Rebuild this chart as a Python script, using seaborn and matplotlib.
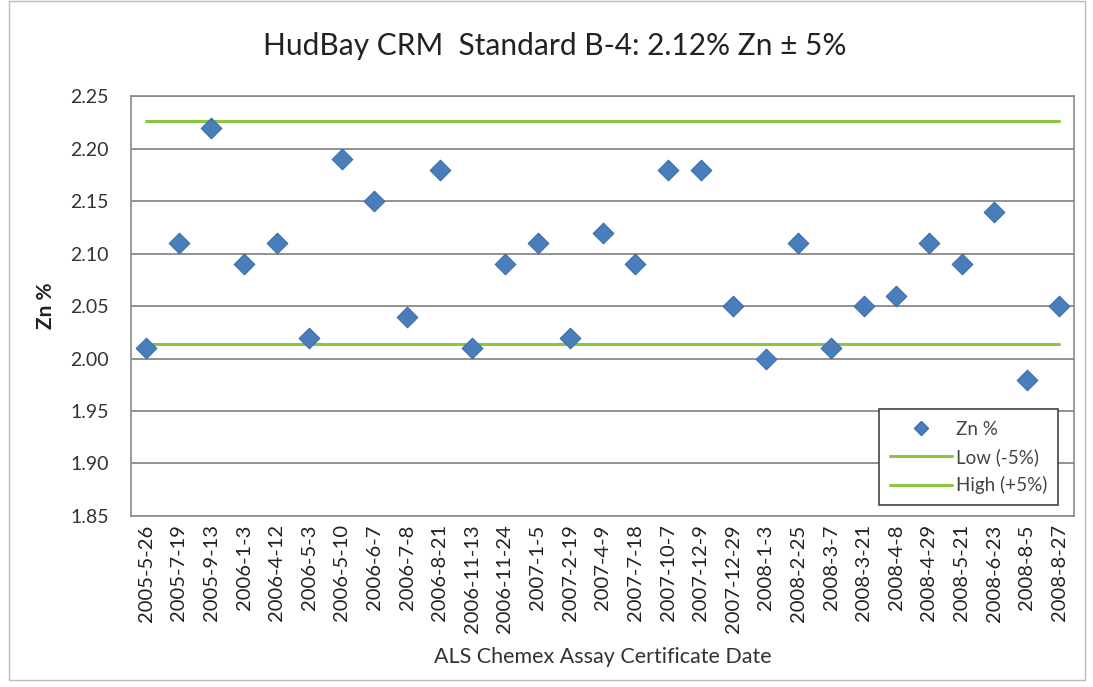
import pandas as pd
import matplotlib.pyplot as plt
import matplotlib.patches as mpatches
import seaborn as sns

fechas = ['2005-5-26', '2005-7-19', '2005-9-13', '2006-1-3', '2006-4-12', '2006-5-3',
          '2006-5-10', '2006-6-7', '2006-7-8', '2006-8-21', '2006-11-13', '2006-11-24',
          '2007-1-5', '2007-2-19', '2007-4-9', '2007-7-18', '2007-10-7', '2007-12-9',
          '2007-12-29', '2008-1-3', '2008-2-25', '2008-3-7', '2008-3-21', '2008-4-8',
          '2008-4-29', '2008-5-21', '2008-6-23', '2008-8-5', '2008-8-27']
zn = [2.01, 2.11, 2.22, 2.09, 2.11, 2.02, 2.19, 2.15, 2.04, 2.18, 2.01, 2.09, 2.11, 2.02,
      2.12, 2.09, 2.18, 2.18, 2.05, 2.00, 2.11, 2.01, 2.05, 2.06, 2.11, 2.09, 2.14, 1.98, 2.05]
estandar = 2.12
bajo = round(estandar * 0.95, 3)
alto = round(estandar * 1.05, 3)

df = pd.DataFrame({'Fecha': fechas, 'Zn': zn})
df['Low'] = bajo
df['High'] = alto

sns.set_style('white')
plt.rcParams['font.family'] = ['Lato', 'DejaVu Sans']

fig = plt.figure(figsize=(10.93, 6.87), dpi=100)
ax = fig.add_axes([0.12, 0.249, 0.863, 0.611])

verde = '#8cc63f'
azul = '#4a7ebb'
sns.lineplot(data=df, x='Fecha', y='Low', color=verde, linewidth=2.2, label='Low (-5%)', ax=ax, sort=False)
sns.lineplot(data=df, x='Fecha', y='High', color=verde, linewidth=2.2, label='High (+5%)', ax=ax, sort=False)
sns.scatterplot(data=df, x='Fecha', y='Zn', marker='D', s=110, color=azul,
                edgecolor='#3a6db0', linewidth=0.8, label='Zn %', ax=ax, zorder=5)

ax.set_ylim(1.85, 2.25)
ax.set_yticks([1.85 + 0.05 * i for i in range(9)])
ax.set_yticklabels([f'{1.85 + 0.05 * i:.2f}' for i in range(9)], fontsize=14, color='#333333')
ax.set_xlim(-0.46, len(fechas) - 0.54)
ax.set_xticks(range(len(fechas)))
ax.set_xticklabels(fechas, rotation=90, fontsize=14.5, color='#222222')
ax.tick_params(axis='both', length=0, pad=6)
ax.tick_params(axis='y', pad=16)

ax.yaxis.grid(True, color='#7f7f7f', linewidth=1.2)
ax.set_axisbelow(True)
for s in ax.spines.values():
    s.set_color('#8a8a8a')
    s.set_linewidth(1.2)

ax.set_xlabel('ALS Chemex Assay Certificate Date', fontsize=15.5, color='#333333', labelpad=10)
ax.set_ylabel('Zn %', fontsize=15, color='#222222', fontweight='bold', labelpad=10)
fig.text(0.508, 0.933, 'HudBay CRM  Standard B-4: 2.12% Zn \u00b1 5%', ha='center', va='center',
         fontsize=21.5, color='#222222')

h, l = ax.get_legend_handles_labels()
orden = [2, 0, 1]
hz = plt.Line2D([], [], marker='D', linestyle='', markersize=7, color=azul, markeredgecolor='#3a6db0')
leg = ax.legend([hz, h[0], h[1]], [l[i] for i in orden], loc='lower right',
                bbox_to_anchor=(0.983, 0.025), fontsize=13.5, frameon=True, fancybox=False,
                edgecolor='#444444', borderpad=0.6, labelspacing=0.55, handlelength=3.3,
                handletextpad=0.2, labelcolor='#444444', borderaxespad=0)
leg.get_frame().set_linewidth(1.2)
leg.get_frame().set_alpha(1)

fig.patches.append(mpatches.Rectangle((0.008, 0.01), 0.985, 0.989, transform=fig.transFigure,
                                      fill=False, edgecolor='#bbbbbb', linewidth=1))

fig.savefig('out.png', dpi=100)
